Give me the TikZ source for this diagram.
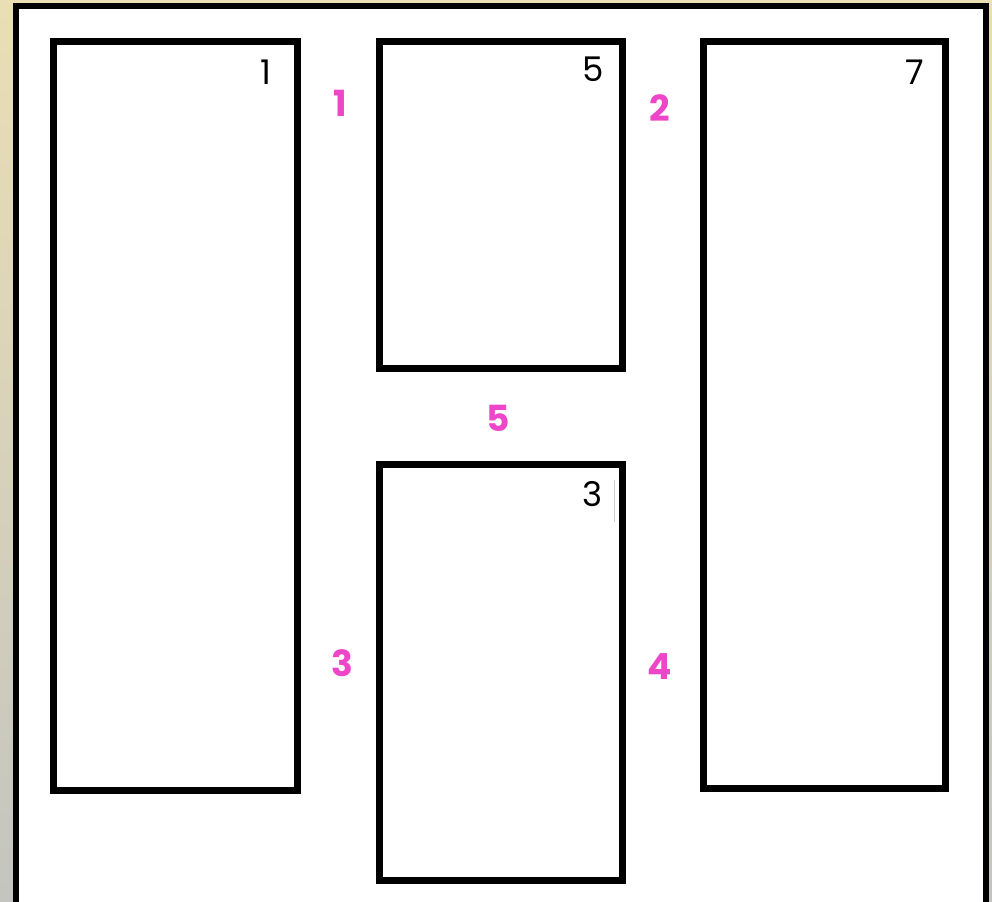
\documentclass[tikz,border=0pt]{standalone}
\usepackage{fontspec}
\setmainfont{Poppins}
\usepackage{xcolor}
\usepackage{tikz}
\usetikzlibrary{calc}
\definecolor{pinklabel}{RGB}{238,70,200}
\definecolor{sandtop}{RGB}{234,222,180}
\definecolor{sandbot}{RGB}{196,197,192}

\begin{document}
\begin{tikzpicture}[
  x=0.5pt,y=-0.5pt,
  room/.style={draw=black,line width=3.5pt,fill=white,inner sep=0pt},
  roomno/.style={font=\fontsize{17}{17}\selectfont,text=black,inner sep=0pt},
  doorno/.style={font=\fontsize{18}{18}\selectfont\bfseries,text=pinklabel,inner sep=0pt},
]
% background and frame
\shade[top color=sandtop,bottom color=sandbot] (0,0) rectangle (992,901);
\useasboundingbox (0,0) rectangle (992,901);
\draw[line width=3.2pt,fill=white] (16,930) -- (16,6) -- (986,6) -- (986,930);
% rooms
\node[room,minimum width=122pt,minimum height=374.5pt] (r1) at (175,415.5) {};
\node[room,minimum width=121.5pt,minimum height=163.5pt] (r5) at (500.5,204.5) {};
\node[room,minimum width=121pt,minimum height=373.5pt] (r7) at (824,414.5) {};
\node[room,minimum width=121.5pt,minimum height=208pt] (r3) at (500.5,672) {};
\draw[gray!40,line width=0.4pt] (614,480) -- (614,522);
% room numbers
\node[roomno] (n1) at (266,72) {1};
\node[roomno] (n5) at (593,69) {5};
\node[roomno] (n7) at (915,72) {7};
\node[roomno] (n3) at (593,494) {3};
% door numbers
\node[doorno] (d1) at (340,103) {1};
\node[doorno] (d2) at (660,108) {2};
\node[doorno] (d5) at (498,418) {5};
\node[doorno] (d3) at (342,663) {3};
\node[doorno] (d4) at (660,667) {4};
\end{tikzpicture}
\end{document}
